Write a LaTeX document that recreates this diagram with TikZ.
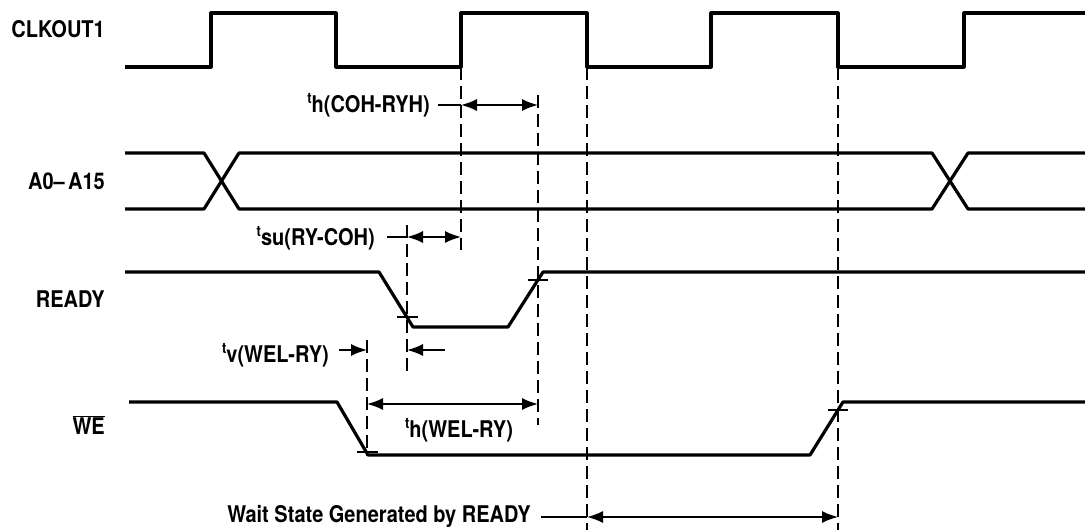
\documentclass[tikz,border=0pt]{standalone}
\usepackage{fontspec}
\usepackage{graphicx}
\setmainfont{TeX Gyre Heros}
\usetikzlibrary{arrows.meta}
\newcommand{\lbl}[1]{\scalebox{1}[1.15]{#1}}
\newcommand{\tsub}[1]{\lbl{{\fontsize{13}{13}\selectfont t}\raisebox{-8pt}{#1}}}

\begin{document}
\begin{tikzpicture}[x=1pt,y=-1pt,
  >={Latex[length=16pt,width=12pt]},
  every node/.style={font=\fontsize{20}{24}\selectfont\bfseries, inner sep=2pt},
  sig/.style={line width=3.2pt,line join=round},
  guide/.style={line width=1.3pt,dash pattern=on 13pt off 6pt},
  dim/.style={line width=1.6pt},
  tick/.style={line width=1.4pt}]
\useasboundingbox (0,0) rectangle (1085,530);

\node[anchor=east] (clk) at (107,29) {\lbl{CLKOUT1}};
\node[anchor=east] (addr) at (107,181) {\lbl{A0–\,A15}};
\node[anchor=east] (rdy) at (107,299) {\lbl{READY}};
\node[anchor=east] (we) at (107,425) {\lbl{$\overline{\hbox{WE}}$}};

\draw[sig] (125,67) -- (211,67) -- (211,13) -- (336,13) -- (336,67) -- (461,67)
  -- (461,13) -- (587,13) -- (587,67) -- (711,67) -- (711,13) -- (838,13)
  -- (838,67) -- (964,67) -- (964,13) -- (1090,13);
\draw[sig] (125,153) -- (204,153) -- (239,209) -- (932,209) -- (968,153) -- (1090,153);
\draw[sig] (125,209) -- (204,209) -- (239,153) -- (932,153) -- (968,209) -- (1090,209);
\draw[sig] (125,272) -- (379,272) -- (413,327) -- (508,327) -- (543,272) -- (1090,272);
\draw[sig] (129,402) -- (337,402) -- (368,455) -- (810,455) -- (843,402) -- (1090,402);

\draw[guide] (461,67) -- (461,250);
\draw[guide] (538,95) -- (538,425);
\draw[guide] (587,67) -- (587,530);
\draw[guide] (838,67) -- (838,530);
\draw[guide] (407,225) -- (407,376);
\draw[guide] (367,340) -- (367,456);

\draw[tick] (397,317) -- (418,317);
\draw[tick] (528,280) -- (548,280);
\draw[tick] (357,452) -- (378,452);
\draw[tick] (828,410) -- (848,410);

\coordinate (cohA) at (461,105);
\coordinate (cohB) at (538,105);
\node[anchor=base east] (thcoh) at (432,103) {\tsub{h(COH-RYH)}};
\draw[dim,<->] (cohA) -- (cohB);
\draw[dim] ([xshift=6pt]thcoh.east |- cohA) -- (cohA);

\coordinate (suA) at (407,237);
\coordinate (suB) at (461,237);
\node[anchor=base east] (tsu) at (377,236) {\tsub{su(RY-COH)}};
\draw[dim,<->] (suA) -- (suB);
\draw[dim] ([xshift=10pt]tsu.east |- suA) -- (suA);

\coordinate (vA) at (367,350);
\coordinate (vB) at (407,350);
\coordinate (vC) at (445,350);
\node[anchor=base east] (tv) at (331,353) {\tsub{v(WEL-RY)}};
\draw[dim,->] ([xshift=8pt]tv.east |- vA) -- (vA);
\draw[dim,->] (vC) -- (vB);

\coordinate (whA) at (367,404);
\coordinate (whB) at (538,404);
\draw[dim,<->] (whA) -- (whB);
\node[anchor=base] (thwel) at (459,428) {\tsub{h(WEL-RY)}};

\coordinate (wsA) at (587,517);
\coordinate (wsB) at (838,517);
\node[anchor=base east] (ws) at (533,522) {\lbl{Wait State Generated by READY}};
\draw[dim,<->] (wsA) -- (wsB);
\draw[dim] ([xshift=8pt]ws.east |- wsA) -- (wsA);
\end{tikzpicture}
\end{document}
